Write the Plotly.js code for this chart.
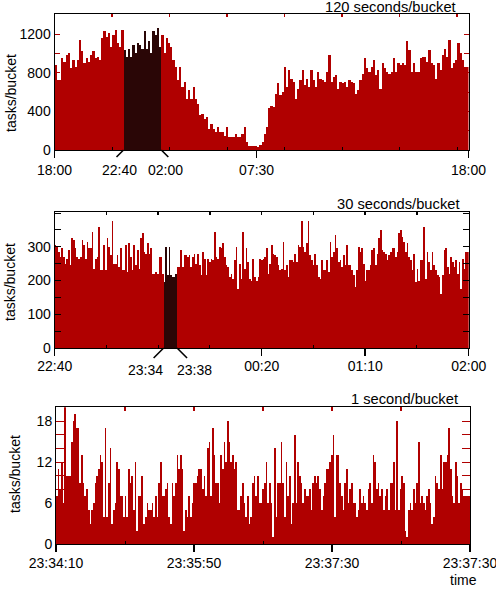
<!DOCTYPE html>
<html><head><meta charset="utf-8">
<script src="https://cdn.plot.ly/plotly-3.0.1.min.js"></script>
<style>html,body{margin:0;padding:0;background:#fff;}#chart{width:496px;height:589px;}</style>
</head><body><div id="chart"></div>
<script>
// ---------- Panel 1: 120 seconds/bucket, 18:00 -> 18:00 ----------
const P1_SPAN = 1440; // minutes
const P1_VALUES = [
880,723,720,950,915,985,1000,845,930,860,930,1140,1020,900,950,915,985,1020,950,965,930,1160,1230,1175,1210,1070,1190,1245,1105,1070,1245,
1035,965,1050,965,1090,1000,1105,1090,1050,1230,1050,1125,1000,1230,1190,1260,1070,
1190,1000,1160,1105,1070,930,860,720,860,655,705,530,620,530,655,530,480,360,375,325,340,220,270,220,185,235,185,185,150,235,130,130,130,165,130,
130,165,235,80,45,45,45,45,35,55,
80,165,235,430,460,445,585,690,570,600,
860,655,830,740,705,530,635,720,830,670,
740,655,830,720,655,810,740,720,705,810,
985,705,760,775,635,705,690,705,655,720,
705,690,585,620,720,790,950,845,810,860,
930,775,830,635,900,845,810,790,810,950,
810,900,880,900,880,1125,1035,810,900,810,
810,950,965,965,915,1035,900,880,740,900,
830,985,1050,965,1140,845,900,930,1105,1000,
930,860,860
];
const P1_HIGHLIGHT = [31, 48];
const P1_TICKVALS = [0, 703, 1440];
const P1_TICKTEXT = ['18:00', '07:30', '18:00'];
const P1_MINOR = [200, 400, 600, 800, 1000, 1200, 1400];
const P1_YTICKS = [0, 400, 800, 1200];
const P1_ZOOMTEXT = ['22:40', '02:00'];
const P1_TITLE = '120 seconds/bucket';

// ---------- Panel 2: 30 seconds/bucket, 22:40 -> 02:00 ----------
const P2_SPAN = 200; // minutes
const P2_VALUES = [
305,300,285,270,295,270,250,265,290,245,
325,320,295,270,265,270,320,305,265,315,
295,295,345,235,265,270,360,230,230,305,
230,325,300,275,375,250,250,275,240,295,
230,230,305,225,310,270,230,305,245,290,
235,325,340,285,280,310,280,295,220,220,
225,220,270,270,220,
195,300,215,300,215,210,210,220,
240,240,290,240,275,275,270,275,240,270,
280,250,280,245,215,285,265,215,265,255,
265,260,345,270,265,300,295,310,270,245,
240,210,220,205,260,300,175,250,205,345,
235,295,255,
205,200,265,210,200,210,265,260,265,270,
295,220,250,305,280,275,270,245,230,235,
315,230,245,210,260,260,255,280,255,305,
300,375,300,285,310,375,275,260,245,280,
245,210,205,260,230,230,260,225,315,270,
285,335,295,255,260,240,275,245,305,245,
245,230,215,180,230,300,285,295,250,200,
230,230,245,290,295,245,280,325,350,290,
285,280,260,275,285,295,295,270,285,340,
350,330,315,285,310,270,260,230,280,195,
235,200,260,260,360,205,285,255,230,285,
245,230,215,210,160,215,290,295,240,220,
270,255,240,260,220,255,175,265,235,285,
285
];
const P2_HIGHLIGHT = [65, 73];
const P2_TICKVALS = [0, 100, 150, 200];
const P2_TICKTEXT = ['22:40', '00:20', '01:10', '02:00'];
const P2_MINOR = [25, 50, 75, 125, 175];
const P2_TOP = [25, 50, 75, 100, 125, 150, 175];
const P2_YTICKS = [0, 100, 200, 300];
const P2_ZOOMTEXT = ['23:34', '23:38'];
const P2_TITLE = '30 seconds/bucket';

// ---------- Panel 3: 1 second/bucket, from 23:34:10 ----------
const P3_SPAN = 300; // seconds
const P3_VALUES = [
7,11,8,12,6,20,10,10,10,15,
18,19,17,17,9,13,9,7,8,5,
3,5,6,9,10,11,13,12,4,17,
4,9,14,3,5,6,12,11,7,7,
4,7,4,11,9,10,5,12,2,7,
7,10,3,4,6,5,5,6,4,7,
4,9,12,7,7,8,9,4,3,9,
7,9,13,11,13,11,2,5,4,7,
4,6,9,9,10,11,11,8,10,7,
14,15,7,17,13,9,9,6,13,11,
15,12,18,15,12,13,11,12,5,5,
7,9,6,4,7,3,
4,9,10,7,10,6,6,8,9,12,
6,9,6,1,14,4,9,9,15,9,
4,12,7,10,3,6,16,6,12,10,
9,6,8,7,7,8,5,9,10,9,
10,8,5,7,9,11,11,12,13,16,
4,13,13,9,7,5,9,11,6,8,
9,6,6,4,5,8,6,7,6,5,
8,9,6,13,12,8,9,7,8,5,
7,8,5,9,9,12,5,18,5,8,
10,9,2,1,5,6,5,8,6,9,
15,6,7,6,5,7,8,6,3,4,
10,9,8,13,8,12,12,13,17,11,
7,6,12,10,6,9,8,7,7,7,
7
];
const P3_TICKVALS = [0, 100, 200, 300];
const P3_TICKTEXT = ['23:34:10', '23:35:50', '23:37:30', '23:37:30'];
const P3_MINOR = [50, 150, 250];
const P3_TOP = [50, 100, 150, 200, 250];
const P3_YTICKS = [0, 6, 12, 18];
const P3_TITLE = '1 second/bucket';

const Y_TITLE = 'tasks/bucket';
const X_TITLE = 'time';

const RED = '#b00000';
const DARK = '#2a0606';
const FONT = 'Liberation Sans, Arial, Helvetica, sans-serif';

function bars(values, span, hl, xa, ya) {
  const step = span / values.length;
  return {
    type: 'bar', xaxis: xa, yaxis: ya,
    x: values.map((_, i) => (i + 0.5) * step),
    y: values,
    width: step,
    marker: {color: values.map((_, i) => (hl && i >= hl[0] && i < hl[1]) ? DARK : RED), line: {width: 0}},
    hoverinfo: 'skip', showlegend: false
  };
}
function dummy(xa, ya) {
  return {type: 'scatter', mode: 'markers', x: [], y: [], xaxis: xa, yaxis: ya, showlegend: false, hoverinfo: 'skip'};
}

const W = 496, H = 589;
const dom = {
  x1: [54.5 / W, 468.5 / W], y1: [1 - 150 / H, 1 - 14.3 / H],
  x2: [54.7 / W, 468.7 / W], y2: [1 - 348 / H, 1 - 211.7 / H],
  x3: [56 / W, 470 / W], y3: [1 - 544.3 / H, 1 - 407.3 / H]
};

function xaxisBottom(d, span, tv, tt, minor, anchor, standoff) {
  return {
    domain: d, anchor: anchor, range: [0, span], showgrid: false, zeroline: false,
    showline: true, linecolor: '#000', linewidth: 1, mirror: true,
    tickmode: 'array', tickvals: tv, ticktext: tt, ticks: 'outside', ticklen: 7, tickwidth: 1.5, tickcolor: '#000',
    ticklabelstandoff: standoff, ticklabeloverflow: 'allow',
    minor: {tickmode: 'array', tickvals: minor, ticks: 'inside', ticklen: 3, tickwidth: 1, tickcolor: '#000'},
    tickfont: {family: FONT, size: 14, color: '#000'}, fixedrange: true
  };
}
function xaxisTop(over, anchor, span, tv, color, len) {
  return {
    overlaying: over, anchor: anchor, side: 'top', range: [0, span], showgrid: false, zeroline: false, showline: false,
    tickmode: 'array', tickvals: tv, ticks: 'inside', ticklen: len, tickwidth: 1.5, tickcolor: color,
    showticklabels: false, fixedrange: true
  };
}
function yaxis(d, anchor, range, tv, mdtick, color, len) {
  return {
    domain: d, anchor: anchor, range: range, showgrid: false, zeroline: false,
    showline: true, linecolor: '#000', linewidth: 1, mirror: 'allticks',
    tickmode: 'array', tickvals: tv, ticks: 'inside', ticklen: len, tickwidth: 1, tickcolor: color,
    minor: {tickmode: 'linear', tick0: 0, dtick: mdtick, ticks: 'inside', ticklen: len, tickwidth: 1, tickcolor: color},
    tickfont: {family: FONT, size: 14, color: '#000'}, fixedrange: true
  };
}

const data = [
  bars(P1_VALUES, P1_SPAN, P1_HIGHLIGHT, 'x', 'y'),
  bars(P2_VALUES, P2_SPAN, P2_HIGHLIGHT, 'x2', 'y2'),
  bars(P3_VALUES, P3_SPAN, null, 'x3', 'y3'),
  dummy('x4', 'y'), dummy('x5', 'y2'), dummy('x6', 'y3')
];

function hlEdges(values, span, hl) { const s = span / values.length; return [hl[0] * s, hl[1] * s]; }
const e1 = hlEdges(P1_VALUES, P1_SPAN, P1_HIGHLIGHT);
const e2 = hlEdges(P2_VALUES, P2_SPAN, P2_HIGHLIGHT);

function diag(xa, xv, ybottom, dx, dy) {
  return {type: 'line', xref: xa, xsizemode: 'pixel', xanchor: xv, x0: 0, x1: dx,
          yref: 'paper', ysizemode: 'pixel', yanchor: ybottom, y0: 0, y1: -dy,
          line: {color: '#000', width: 1.6}};
}
function txt(text, xref, x, y, opts) {
  return Object.assign({text: text, xref: xref, x: x, yref: 'paper', y: y, showarrow: false,
    xanchor: 'center', yanchor: 'middle', font: {family: FONT, size: 14, color: '#000'}}, opts || {});
}
const TFONT = {family: FONT, size: 14.7, color: '#000'};

const layout = {
  width: W, height: H, margin: {l: 0, r: 0, t: 0, b: 0},
  paper_bgcolor: '#fff', plot_bgcolor: '#fff', bargap: 0, showlegend: false,
  xaxis: xaxisBottom(dom.x1, P1_SPAN, P1_TICKVALS, P1_TICKTEXT, P1_MINOR, 'y', 0),
  yaxis: yaxis(dom.y1, 'x', [0, 1405], P1_YTICKS, 200, RED, 5),
  xaxis2: xaxisBottom(dom.x2, P2_SPAN, P2_TICKVALS, P2_TICKTEXT, P2_MINOR, 'y2', -2),
  yaxis2: yaxis(dom.y2, 'x2', [0, 404], P2_YTICKS, 50, '#000', 6),
  xaxis3: xaxisBottom(dom.x3, P3_SPAN, P3_TICKVALS, P3_TICKTEXT, P3_MINOR, 'y3', -1),
  yaxis3: yaxis(dom.y3, 'x3', [0, 20], P3_YTICKS, 2, RED, 8),
  xaxis4: xaxisTop('x', 'y', P1_SPAN, P1_MINOR, RED, 3),
  xaxis5: xaxisTop('x2', 'y2', P2_SPAN, P2_TOP, '#000', 3),
  xaxis6: xaxisTop('x3', 'y3', P3_SPAN, P3_TOP, RED, 4),
  shapes: [
    diag('x', e1[0], dom.y1[0], -7, 7), diag('x', e1[1], dom.y1[0], 7, 7),
    diag('x2', e2[0], dom.y2[0], -10, 10), diag('x2', e2[1], dom.y2[0], 10, 10)
  ],
  annotations: [
    txt(P1_TITLE, 'paper', 458 / W, 1 - 7 / H, {xanchor: 'right', font: TFONT}),
    txt(P2_TITLE, 'paper', 461 / W, 1 - 203.5 / H, {xanchor: 'right', font: TFONT}),
    txt(P3_TITLE, 'paper', 460 / W, 1 - 399 / H, {xanchor: 'right', font: TFONT}),
    txt(Y_TITLE, 'paper', 11 / W, 1 - 93 / H, {textangle: -90}),
    txt(Y_TITLE, 'paper', 10 / W, 1 - 282 / H, {textangle: -90}),
    txt(Y_TITLE, 'paper', 15 / W, 1 - 474 / H, {textangle: -90}),
    txt(X_TITLE, 'paper', 463 / W, 0, {yanchor: 'bottom', borderpad: 0}),
    txt(P1_ZOOMTEXT[0], 'x', e1[0], dom.y1[0], {xshift: -4, yshift: -20}),
    txt(P1_ZOOMTEXT[1], 'x', e1[1], dom.y1[0], {xshift: 4, yshift: -20}),
    txt(P2_ZOOMTEXT[0], 'x2', e2[0], dom.y2[0], {xshift: -18, yshift: -22}),
    txt(P2_ZOOMTEXT[1], 'x2', e2[1], dom.y2[0], {xshift: 17, yshift: -22})
  ]
};

Plotly.newPlot('chart', data, layout, {displayModeBar: false, staticPlot: true});
</script>
</body></html>
